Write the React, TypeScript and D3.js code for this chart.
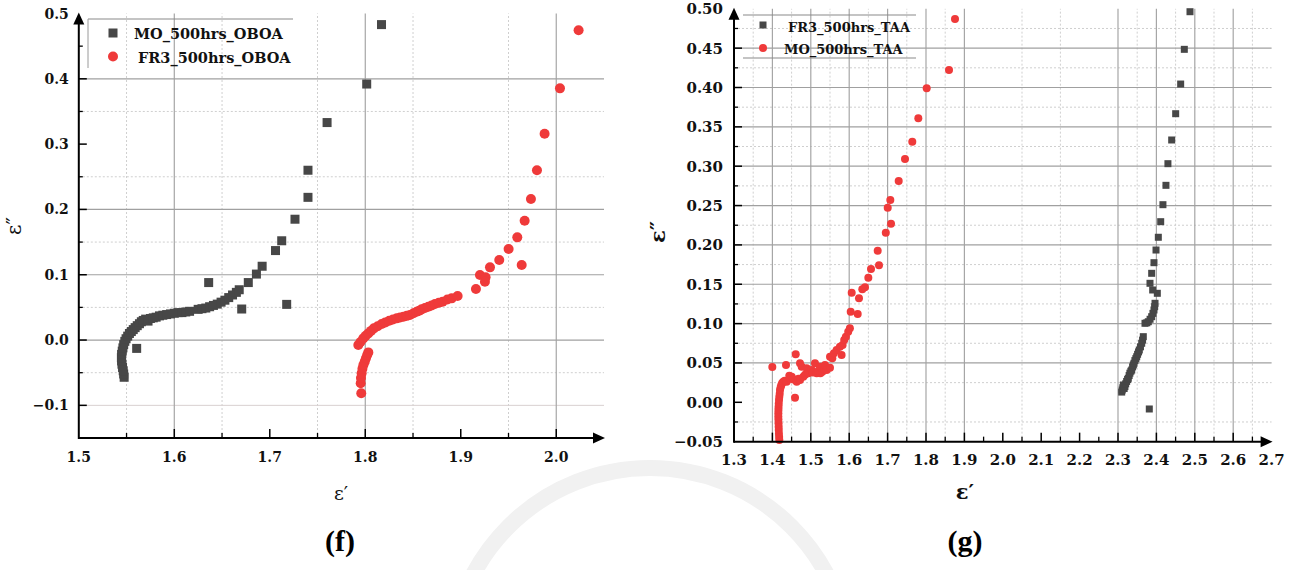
import React from "react";
import * as d3 from "d3";

type Pt = [number, number];

// ---- (f) OBOA panel data: [ε′, ε″] ----
const moOboa: Pt[] = [
  [1.5475, -0.057], [1.547, -0.052], [1.5465, -0.047], [1.5458, -0.042], [1.5452, -0.037],
  [1.5448, -0.032], [1.5446, -0.027], [1.5448, -0.022], [1.5455, -0.017], [1.5462, -0.012],
  [1.547, -0.007], [1.5482, -0.002], [1.5495, 0.002], [1.5512, 0.006], [1.553, 0.01],
  [1.555, 0.013], [1.557, 0.016], [1.559, 0.019], [1.5612, 0.022], [1.5635, 0.025],
  [1.5655, 0.028], [1.5675, 0.03], [1.57, 0.032], [1.5725, 0.029], [1.575, 0.033],
  [1.578, 0.034], [1.581, 0.035], [1.5845, 0.037], [1.588, 0.038], [1.592, 0.039],
  [1.596, 0.04], [1.6, 0.041], [1.604, 0.042], [1.608, 0.042], [1.612, 0.043],
  [1.616, 0.044], [1.625, 0.047], [1.629, 0.048], [1.633, 0.049], [1.637, 0.051],
  [1.641, 0.053], [1.645, 0.055], [1.649, 0.058], [1.653, 0.061], [1.657, 0.065],
  [1.661, 0.069], [1.665, 0.073], [1.668, 0.077], [1.6775, 0.088], [1.686, 0.101],
  [1.692, 0.113], [1.706, 0.137], [1.7125, 0.152], [1.7264, 0.185], [1.74, 0.2185],
  [1.74, 0.26], [1.76, 0.333], [1.8015, 0.392], [1.817, 0.483],
  [1.5606, -0.0128], [1.636, 0.088], [1.6706, 0.0475], [1.7177, 0.0546],
];

const fr3Oboa: Pt[] = [
  [1.7958, -0.0816], [1.7952, -0.0663], [1.7955, -0.058], [1.7962, -0.051], [1.797, -0.044],
  [1.798, -0.0383], [1.7995, -0.033], [1.8007, -0.028], [1.802, -0.023], [1.8032, -0.0189],
  [1.7927, -0.0077], [1.795, -0.003], [1.798, 0.0026], [1.8005, 0.0065], [1.8032, 0.0102],
  [1.806, 0.014], [1.809, 0.0179], [1.813, 0.021], [1.8172, 0.0245], [1.821, 0.027],
  [1.8251, 0.0296], [1.829, 0.0315], [1.833, 0.0332], [1.8365, 0.0345], [1.84, 0.0357],
  [1.8435, 0.037], [1.8468, 0.0383], [1.8505, 0.041], [1.8538, 0.0434], [1.8565, 0.045],
  [1.859, 0.047], [1.8625, 0.049], [1.866, 0.051], [1.8695, 0.053], [1.873, 0.0551],
  [1.877, 0.057], [1.881, 0.0587], [1.886, 0.062], [1.8905, 0.0638], [1.8967, 0.0674],
  [1.9159, 0.0781], [1.9201, 0.0995], [1.926, 0.096], [1.9253, 0.0893], [1.9306, 0.1113],
  [1.9403, 0.1225], [1.9501, 0.1395], [1.9592, 0.1572], [1.9638, 0.1149], [1.9669, 0.1827],
  [1.9735, 0.2159], [1.9798, 0.2599], [1.9878, 0.316], [2.0039, 0.3854], [2.0234, 0.4743],
];

// ---- (g) TAA panel data: [ε′, ε″] ----
const fr3Taa: Pt[] = [
  [2.3096, 0.013], [2.311, 0.0156], [2.3125, 0.0185], [2.314, 0.022], [2.316, 0.0175],
  [2.318, 0.02], [2.32, 0.0235], [2.3225, 0.0265], [2.325, 0.029], [2.3268, 0.0305],
  [2.329, 0.034], [2.331, 0.037], [2.3335, 0.0395], [2.3357, 0.041], [2.338, 0.045],
  [2.34, 0.0475], [2.3417, 0.0496], [2.344, 0.053], [2.3465, 0.0555], [2.3487, 0.0579],
  [2.351, 0.061], [2.3535, 0.064], [2.3555, 0.0665], [2.3585, 0.0705], [2.3617, 0.075],
  [2.364, 0.079], [2.3659, 0.0834], [2.3703, 0.1004], [2.375, 0.101], [2.3789, 0.1024],
  [2.3835, 0.1055], [2.3877, 0.1088], [2.391, 0.113], [2.3937, 0.1173], [2.3955, 0.1215],
  [2.3964, 0.1258], [2.4024, 0.1385], [2.3903, 0.1427], [2.3833, 0.1512], [2.3877, 0.1639],
  [2.3937, 0.1774], [2.399, 0.1935], [2.405, 0.2097], [2.4112, 0.2295], [2.417, 0.2511],
  [2.4249, 0.2757], [2.43, 0.3032], [2.4398, 0.3333], [2.4502, 0.3667], [2.4632, 0.4044],
  [2.4727, 0.4485], [2.4875, 0.4963], [2.3815, -0.0085],
];

const moTaa: Pt[] = [
  [1.418, -0.048], [1.4175, -0.044], [1.417, -0.04], [1.4166, -0.0352], [1.4163, -0.031],
  [1.416, -0.0265], [1.4157, -0.022], [1.4155, -0.018], [1.4155, -0.014], [1.4157, -0.0098],
  [1.416, -0.006], [1.4165, -0.002], [1.4172, 0.003], [1.418, 0.007], [1.419, 0.011],
  [1.4198, 0.0156], [1.4215, 0.019], [1.4232, 0.0219], [1.4255, 0.0245], [1.4284, 0.0262],
  [1.432, 0.0275], [1.437, 0.0262], [1.444, 0.0338], [1.446, 0.03], [1.4503, 0.0325],
  [1.455, 0.029], [1.4633, 0.0262], [1.468, 0.03], [1.4589, 0.0058], [1.4354, 0.0474],
  [1.3998, 0.0448], [1.4607, 0.061], [1.4719, 0.0496], [1.4763, 0.0452], [1.4719, 0.0283],
  [1.4805, 0.0325], [1.485, 0.035], [1.4893, 0.0432], [1.4935, 0.0368], [1.5023, 0.041],
  [1.505, 0.038], [1.5109, 0.0496], [1.5153, 0.0368], [1.52, 0.04], [1.524, 0.0452],
  [1.525, 0.037], [1.5301, 0.0389], [1.535, 0.042], [1.537, 0.0474], [1.5414, 0.041],
  [1.55, 0.044], [1.55, 0.058], [1.556, 0.056], [1.5602, 0.0623], [1.5672, 0.0665],
  [1.5758, 0.0707], [1.5802, 0.0601], [1.5828, 0.0728], [1.587, 0.0792], [1.5914, 0.0834],
  [1.5974, 0.0897], [1.6018, 0.094], [1.6039, 0.1151], [1.6221, 0.1122], [1.6065, 0.1393],
  [1.6255, 0.1322], [1.6341, 0.1436], [1.6411, 0.1461], [1.6498, 0.1584], [1.6568, 0.1694],
  [1.6776, 0.174], [1.6742, 0.1927], [1.6953, 0.2155], [1.7089, 0.227], [1.7003, 0.2473],
  [1.7071, 0.257], [1.7289, 0.2812], [1.7453, 0.3091], [1.7643, 0.3311], [1.78, 0.3609],
  [1.8018, 0.399], [1.8599, 0.4222], [1.8755, 0.487],
];

// ---- axis ticks and grid positions ----
const fXTicks = [1.5, 1.6, 1.7, 1.8, 1.9, 2.0];
const fXMinor = [1.55, 1.65, 1.75, 1.85, 1.95, 2.05];
const fYTicks = [-0.1, 0.0, 0.1, 0.2, 0.3, 0.4, 0.5];
const fYMinor = [-0.15, -0.05, 0.05, 0.15, 0.25, 0.35, 0.45];
const fGridXSolid = [1.6, 1.8, 2.0];
const fGridXDash = [1.55, 1.65, 1.75, 1.85, 1.95];
const fGridYSolid = [0.0, 0.1, 0.2, 0.4];
const fGridYLight = [-0.1];
const fGridYDash = [-0.05, 0.05, 0.15, 0.25, 0.35];

const gXTicks = [1.3, 1.4, 1.5, 1.6, 1.7, 1.8, 1.9, 2.0, 2.1, 2.2, 2.3, 2.4, 2.5, 2.6, 2.7];
const gXMinor = [1.35, 1.45, 1.55, 1.65, 1.75, 1.85, 1.95, 2.05, 2.15, 2.25, 2.35, 2.45, 2.55, 2.65];
const gYTicks = [-0.05, 0.0, 0.05, 0.1, 0.15, 0.2, 0.25, 0.3, 0.35, 0.4, 0.45, 0.5];
const gYMinor = [-0.025, 0.025, 0.075, 0.125, 0.175, 0.225, 0.275, 0.325, 0.375, 0.425, 0.475];
const gGridXSolid = [1.4, 1.5, 1.6, 1.7, 1.8, 1.9, 2.3, 2.4, 2.5, 2.6];
const gGridXDash = [1.35, 1.45, 1.55, 1.65, 1.75, 1.85, 2.05, 2.15, 2.35, 2.45, 2.55, 2.65];
const gGridYSolid = [0.05, 0.1, 0.15, 0.2, 0.25, 0.3, 0.35, 0.4, 0.45];
const gGridYDash = [-0.025, 0.025, 0.075, 0.125, 0.175, 0.225, 0.275, 0.325, 0.375, 0.425, 0.475];

const DARK = "#474747";
const RED = "#EF3A3A";
const SERIF = "'DejaVu Serif', serif";

type Series = { name: string; data: Pt[]; shape: "square" | "circle"; color: string };

type PanelProps = {
  xDomain: [number, number];
  xRange: [number, number];
  yDomain: [number, number];
  yRange: [number, number];
  xTicks: number[];
  xMinor: number[];
  yTicks: number[];
  yMinor: number[];
  xFmt: (v: number) => string;
  yFmt: (v: number) => string;
  gridXSolid: number[];
  gridXDash: number[];
  gridYSolid: number[];
  gridYLight: number[];
  gridYDash: number[];
  series: Series[];
  markerSize: number;
  tickFont: number;
  xLabelBaseline: number;
  yLabelGap: number;
  legend: {
    x1: number; x2: number; top: number; bottom: number; leftEdge: boolean; bottomEdge: boolean;
    markerX: number; textX: number[]; rows: number[]; baselines: number[]; font: number; marker: number;
  };
};

function Marker({ shape, cx, cy, size, color }: { shape: string; cx: number; cy: number; size: number; color: string }) {
  if (shape === "square") {
    return <rect x={cx - size / 2} y={cy - size / 2} width={size} height={size} fill={color} />;
  }
  return <circle cx={cx} cy={cy} r={size / 2 + 0.5} fill={color} />;
}

function Panel(p: PanelProps) {
  const x = d3.scaleLinear().domain(p.xDomain).range(p.xRange);
  const y = d3.scaleLinear().domain(p.yDomain).range(p.yRange);
  const [x0, x1] = p.xRange;
  const [yb, yt] = p.yRange;
  return (
    <g>
      {/* grid */}
      {p.gridXDash.map((v) => (
        <line key={"gxd" + v} x1={x(v)} x2={x(v)} y1={yb} y2={yt} stroke="#cfcfcf" strokeWidth={1} strokeDasharray="2,2" />
      ))}
      {p.gridYDash.map((v) => (
        <line key={"gyd" + v} x1={x0} x2={x1} y1={y(v)} y2={y(v)} stroke="#cfcfcf" strokeWidth={1} strokeDasharray="2,2" />
      ))}
      {p.gridYLight.map((v) => (
        <line key={"gyl" + v} x1={x0} x2={x1} y1={y(v)} y2={y(v)} stroke="#d8d0d0" strokeWidth={1} />
      ))}
      {p.gridXSolid.map((v) => (
        <line key={"gxs" + v} x1={x(v)} x2={x(v)} y1={yb} y2={yt} stroke="#a6a6a6" strokeWidth={1.2} />
      ))}
      {p.gridYSolid.map((v) => (
        <line key={"gys" + v} x1={x0} x2={x1} y1={y(v)} y2={y(v)} stroke="#a0a0a0" strokeWidth={1.2} />
      ))}

      {/* data */}
      {p.series.map((s) => (
        <g key={s.name}>
          {s.data.map((d, i) => (
            <Marker key={i} shape={s.shape} cx={x(d[0])} cy={y(d[1])} size={p.markerSize} color={s.color} />
          ))}
        </g>
      ))}

      {/* axes */}
      <line x1={x0} x2={x1 - 6} y1={yb} y2={yb} stroke="#000" strokeWidth={2} />
      <line x1={x0} x2={x0} y1={yb + 1} y2={yt + 6} stroke="#000" strokeWidth={2} />
      <path d={`M${x1 + 1},${yb} L${x1 - 11},${yb - 5.5} L${x1 - 11},${yb + 5.5} Z`} fill="#000" />
      <path d={`M${x0},${yt - 1} L${x0 - 5.5},${yt + 11} L${x0 + 5.5},${yt + 11} Z`} fill="#000" />
      {p.xTicks.filter((v) => x(v) > x0 + 1 && x(v) < x1 - 8).map((v) => (
        <line key={"xt" + v} x1={x(v)} x2={x(v)} y1={yb} y2={yb - 9} stroke="#000" strokeWidth={1.5} />
      ))}
      {p.xMinor.filter((v) => x(v) < x1 - 10).map((v) => (
        <line key={"xm" + v} x1={x(v)} x2={x(v)} y1={yb} y2={yb - 5} stroke="#000" strokeWidth={1.3} />
      ))}
      {p.yTicks.filter((v) => y(v) < yb - 1 && y(v) > yt + 10).map((v) => (
        <line key={"yt" + v} x1={x0} x2={x0 + 8} y1={y(v)} y2={y(v)} stroke="#000" strokeWidth={1.5} />
      ))}
      {p.yMinor.filter((v) => y(v) < yb - 1).map((v) => (
        <line key={"ym" + v} x1={x0} x2={x0 + 4} y1={y(v)} y2={y(v)} stroke="#000" strokeWidth={1.3} />
      ))}

      {/* tick labels */}
      {p.xTicks.map((v) => (
        <text key={"xl" + v} x={x(v)} y={p.xLabelBaseline} textAnchor="middle" fontFamily={SERIF}
          fontWeight="bold" fontSize={p.tickFont} fill="#111">{p.xFmt(v)}</text>
      ))}
      {p.yTicks.map((v) => (
        <text key={"yl" + v} x={x0 - p.yLabelGap} y={y(v)} dy="0.36em" textAnchor="end" fontFamily={SERIF}
          fontWeight="bold" fontSize={p.tickFont} fill="#111">{p.yFmt(v)}</text>
      ))}

      {/* legend */}
      <line x1={p.legend.x1} x2={p.legend.x2} y1={p.legend.top} y2={p.legend.top} stroke="#8a8a8a" strokeWidth={1.2} />
      {p.legend.bottomEdge && (
        <line x1={p.legend.x1} x2={p.legend.x2} y1={p.legend.bottom} y2={p.legend.bottom} stroke="#8a8a8a" strokeWidth={1.2} />
      )}
      {p.legend.leftEdge && (
        <line x1={p.legend.x1} x2={p.legend.x1} y1={p.legend.top} y2={p.legend.bottom} stroke="#9a9a9a" strokeWidth={1} />
      )}
      {p.series.map((s, i) => (
        <g key={"lg" + s.name}>
          <Marker shape={s.shape} cx={p.legend.markerX} cy={p.legend.rows[i]} size={p.legend.marker} color={s.color} />
          <text x={p.legend.textX[i]} y={p.legend.baselines[i]} fontFamily={SERIF} fontWeight="bold"
            fontSize={p.legend.font} fill="#111">{s.name}</text>
        </g>
      ))}
    </g>
  );
}

export default function App() {
  const fmt1 = d3.format(".1f");
  const fmt2 = d3.format(".2f");
  return (
    <svg width={1301} height={570} viewBox="0 0 1301 570"
      style={{ position: "absolute", left: 0, top: 0, background: "#fff" }}>
      <rect x={0} y={0} width={1301} height={570} fill="#fff" />

      {/* faint seal behind the captions */}
      <circle cx={650} cy={668} r={200} fill="none" stroke="#f1f1f1" strokeWidth={16} />

      <Panel
        xDomain={[1.5, 2.05]} xRange={[78.8, 604]}
        yDomain={[-0.15, 0.5]} yRange={[438, 13.5]}
        xTicks={fXTicks} xMinor={fXMinor} yTicks={fYTicks} yMinor={fYMinor}
        xFmt={fmt1} yFmt={fmt1}
        gridXSolid={fGridXSolid} gridXDash={fGridXDash}
        gridYSolid={fGridYSolid} gridYLight={fGridYLight} gridYDash={fGridYDash}
        series={[
          { name: "MO_500hrs_OBOA", data: moOboa, shape: "square", color: DARK },
          { name: "FR3_500hrs_OBOA", data: fr3Oboa, shape: "circle", color: RED },
        ]}
        markerSize={9} tickFont={14} xLabelBaseline={462} yLabelGap={10}
        legend={{
          x1: 88, x2: 293, top: 19, bottom: 68, leftEdge: true, bottomEdge: false,
          markerX: 113, textX: [134, 138], rows: [33, 56.5], baselines: [39, 62.5], font: 14.5, marker: 9,
        }}
      />

      <Panel
        xDomain={[1.3, 2.7]} xRange={[734, 1271.6]}
        yDomain={[-0.05, 0.5]} yRange={[441.65, 8.8]}
        xTicks={gXTicks} xMinor={gXMinor} yTicks={gYTicks} yMinor={gYMinor}
        xFmt={fmt1} yFmt={fmt2}
        gridXSolid={gGridXSolid} gridXDash={gGridXDash}
        gridYSolid={gGridYSolid} gridYLight={[]} gridYDash={gGridYDash}
        series={[
          { name: "FR3_500hrs_TAA", data: fr3Taa, shape: "square", color: DARK },
          { name: "MO_500hrs_TAA", data: moTaa, shape: "circle", color: RED },
        ]}
        markerSize={7} tickFont={15} xLabelBaseline={465} yLabelGap={11}
        legend={{
          x1: 743, x2: 916, top: 15, bottom: 58, leftEdge: false, bottomEdge: true,
          markerX: 763, textX: [788, 784], rows: [25, 48], baselines: [32.3, 54], font: 13, marker: 7,
        }}
      />

      {/* axis titles */}
      <text transform="translate(21,226) rotate(-90)" textAnchor="middle" fontFamily={SERIF}
        fontSize={20} fill="#111">{"ε″"}</text>
      <text x={341} y={500} textAnchor="middle" fontFamily={SERIF} fontSize={19} fill="#111">{"ε′"}</text>
      <text transform="translate(665,232) rotate(-90)" textAnchor="middle" fontFamily={SERIF}
        fontWeight="bold" fontSize={21} fill="#111">{"ε″"}</text>
      <text x={965} y={499} textAnchor="middle" fontFamily={SERIF} fontWeight="bold" fontSize={21} fill="#111">{"ε′"}</text>

      {/* panel captions */}
      <text x={340} y={551} textAnchor="middle" fontFamily="'Liberation Serif', serif" fontWeight="bold"
        fontSize={30} fill="#000">(f)</text>
      <text x={965} y={551} textAnchor="middle" fontFamily="'Liberation Serif', serif" fontWeight="bold"
        fontSize={30} fill="#000">(g)</text>
    </svg>
  );
}
